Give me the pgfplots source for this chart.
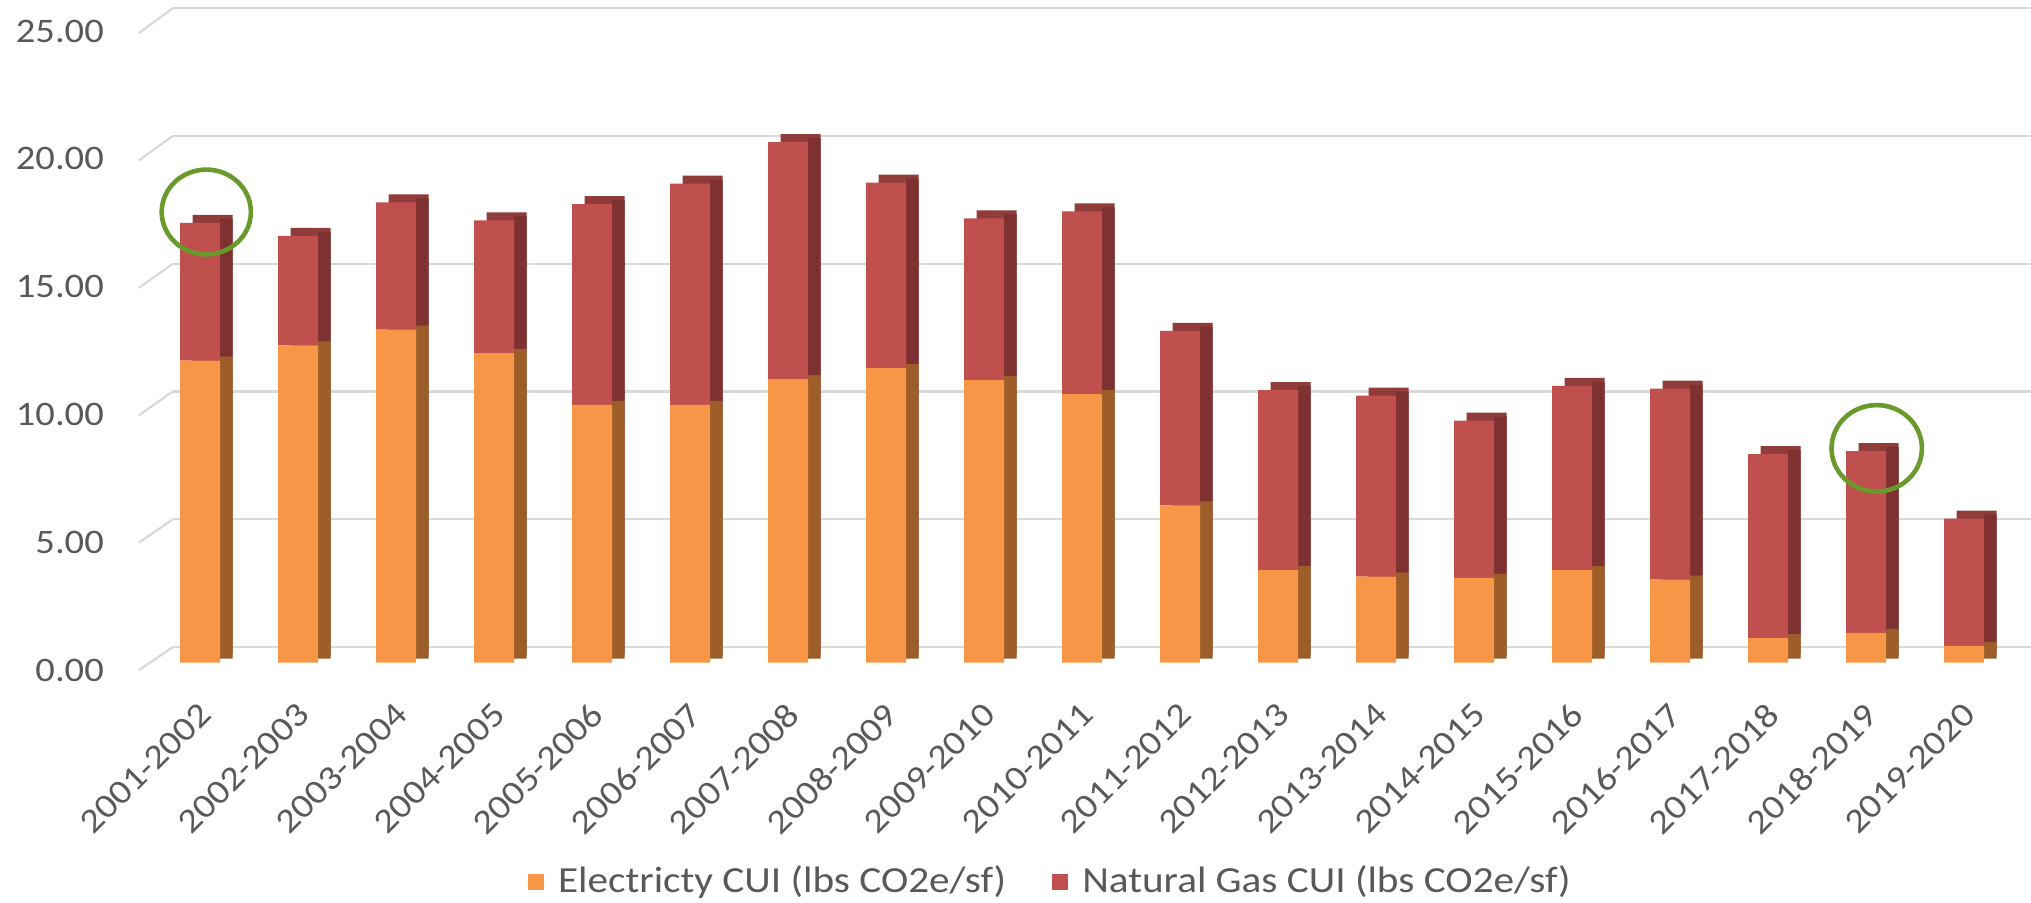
\documentclass[border=0pt]{standalone}
\usepackage{fontspec}
\setmainfont{Carlito}[FakeStretch=1.12]
\usepackage{pgfplots}
\pgfplotsset{compat=1.18}
\usepackage{pgfplotstable}
\definecolor{org}{HTML}{F79646}
\definecolor{orgside}{HTML}{9C5D29}
\definecolor{rd}{HTML}{C0504D}
\definecolor{rdside}{HTML}{7F3131}
\definecolor{rdtop}{HTML}{8F3C3A}
\definecolor{gridc}{HTML}{D9D9D9}
\definecolor{txt}{HTML}{595959}
\definecolor{grn}{HTML}{6A9A2B}
\newcommand\lblfont{\fontsize{8.6}{10}\selectfont}
\newcommand\legfont{\fontsize{9.2}{11}\selectfont}

\pgfplotstableread{
x elec gas total
0 11.82 5.39 17.21
1 12.42 4.28 16.70
2 13.03 4.98 18.01
3 12.11 5.20 17.31
4 10.09 7.85 17.94
5 10.09 8.65 18.74
6 11.09 9.28 20.37
7 11.53 7.25 18.78
8 11.06 6.32 17.38
9 10.51 7.15 17.66
10 6.16 6.82 12.98
11 3.62 7.04 10.66
12 3.37 7.08 10.45
13 3.32 6.15 9.47
14 3.62 7.21 10.83
15 3.25 7.47 10.72
16 0.96 7.20 8.16
17 1.17 7.11 8.28
18 0.66 4.98 5.64
}\data

\pgfplotsset{
  barframe/.style={scale only axis, width=465.5pt, height=159.75pt,
    xmin=-0.5, xmax=18.5, ymin=0, ymax=25, clip=false},
}

\begin{document}
\begin{tikzpicture}
\path[use as bounding box] (0,0) rectangle (507.75pt,225.5pt);
% back plane grid
\begin{axis}[at={(43.25pt,63.75pt)}, anchor=south west, scale only axis,
  width=464.5pt, height=159.75pt, xmin=0, xmax=1, ymin=0, ymax=25,
  ytick={0,5,...,25}, xtick=\empty, ymajorgrids,
  grid style={gridc, line width=0.55pt},
  axis line style={draw=none}, major tick length=0pt,
  yticklabel style={anchor=east, inner sep=0pt, xshift=-17.1pt, yshift=-5.75pt,
    font=\lblfont, text=txt},
  yticklabel={\pgfmathprintnumber[fixed,fixed zerofill,precision=2,assume math mode=true]{\tick}},
  clip=false]
\end{axis}
\foreach \v in {0,5,...,25} {
  \draw[gridc, line width=0.55pt] ({139*0.25pt},{(232+\v*25.48)*0.25pt}) -- ({173*0.25pt},{(255+\v*25.56)*0.25pt});
}
% top faces (depth)
\begin{axis}[barframe, at={(40.875pt,61.825pt)}, anchor=south west, hide axis,
  ybar, bar width=10pt]
\addplot[fill=rdtop, draw=none] table[x=x, y=total] {\data};
\end{axis}
% side faces
\begin{axis}[barframe, at={(37.75pt,60.825pt)}, anchor=south west, hide axis,
  ybar stacked, bar width=3.125pt, bar shift=6.5625pt]
\addplot[fill=orgside, draw=none] table[x=x, y=elec] {\data};
\addplot[fill=rdside, draw=none] table[x=x, y=gas] {\data};
\end{axis}
% front faces
\begin{axis}[barframe, at={(37.75pt,59.825pt)}, anchor=south west,
  ybar stacked, bar width=10pt,
  axis line style={draw=none}, major tick length=0pt, ytick=\empty,
  xtick=data,
  xticklabels={2001-2002,2002-2003,2003-2004,2004-2005,2005-2006,2006-2007,2007-2008,2008-2009,2009-2010,2010-2011,2011-2012,2012-2013,2013-2014,2014-2015,2015-2016,2016-2017,2017-2018,2018-2019,2019-2020},
  xticklabel style={font=\lblfont, text=txt, inner sep=0pt, xshift=-0.75pt, yshift=-9.25pt, rotate=45, anchor=north east},
  legend columns=2,
  legend style={at={(0.4825,-0.3432)}, anchor=center, draw=none, fill=none,
    font=\legfont, text=txt, nodes={inner sep=0pt},
    /tikz/every odd column/.append style={column sep=3.6pt},
    /tikz/every even column/.append style={column sep=11.5pt}},
  legend image code/.code={\fill[#1] (0pt,-1.95pt) rectangle (3.9pt,1.95pt);},
]
\addplot[fill=org, draw=none] table[x=x, y=elec] {\data};
\addlegendentry{Electricty CUI (lbs CO2e/sf)}
\addplot[fill=rd, draw=none] table[x=x, y=gas] {\data};
\addlegendentry{Natural Gas CUI (lbs CO2e/sf)}
\end{axis}
% highlight circles
\draw[grn, line width=1.15pt] (51.575pt,172.5pt) ellipse [x radius=11.15pt, y radius=10.6pt];
\draw[grn, line width=1.15pt] (469.175pt,113.425pt) ellipse [x radius=11.3pt, y radius=10.8pt];
\end{tikzpicture}
\end{document}
